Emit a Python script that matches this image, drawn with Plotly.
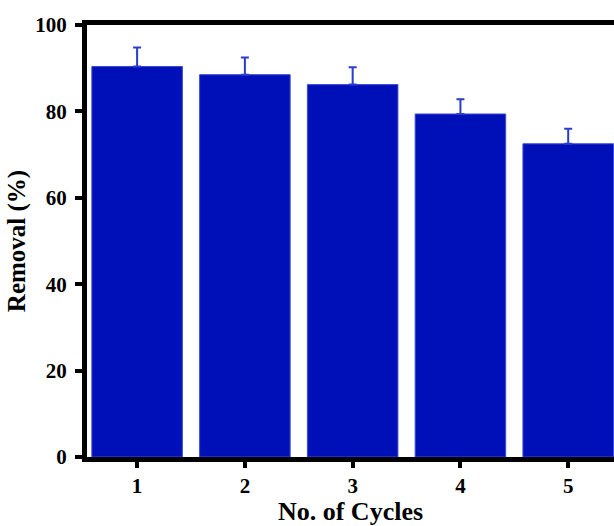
import plotly.graph_objects as go

cycles = [1, 2, 3, 4, 5]
removal = [90.4, 88.5, 86.2, 79.4, 72.5]
errors = [4.4, 4.0, 4.0, 3.4, 3.5]
tick_labels = ["1", "2", "3", "4", "5"]

font_family = "Liberation Serif"

fig = go.Figure()
fig.add_trace(go.Bar(
    x=cycles, y=removal, width=0.84,
    marker=dict(color="#0010B8", line=dict(color="#3a4ad8", width=1)),
    error_y=dict(type="data", array=errors, symmetric=False, arrayminus=[0]*5,
                 color="#2a3ccc", thickness=2, width=4),
))

fig.update_layout(
    width=614, height=526,
    margin=dict(l=87, r=0, t=25, b=69, autoexpand=False),
    paper_bgcolor="white", plot_bgcolor="white",
    showlegend=False,
    font=dict(family=font_family, color="black"),
)
fig.update_xaxes(
    range=[0.535, 5.425], automargin=False,
    tickmode="array", tickvals=cycles, ticktext=tick_labels,
    showline=True, linecolor="black", linewidth=5, mirror=True,
    ticks="outside", ticklen=6, tickwidth=4, tickcolor="black",
    showgrid=False, zeroline=False,
    tickfont=dict(size=21, family=font_family, weight="bold"),
    title=dict(text="<b>No. of Cycles</b>", font=dict(size=26, family=font_family), standoff=4),
)
fig.update_yaxes(
    range=[0, 100], tickvals=[0, 20, 40, 60, 80, 100], automargin=False,
    showline=True, linecolor="black", linewidth=5,
    ticks="outside", ticklen=7, tickwidth=4, tickcolor="black",
    showgrid=False, zeroline=False, ticklabelstandoff=4,
    tickfont=dict(size=21, family=font_family, weight="bold"),
    title=dict(text="<b>Removal (%)</b>", font=dict(size=25, family=font_family), standoff=4),
)

fig.write_html("out.html", config={"displayModeBar": False},
               post_script="document.body.style.margin='0';document.body.style.overflow='hidden';")
